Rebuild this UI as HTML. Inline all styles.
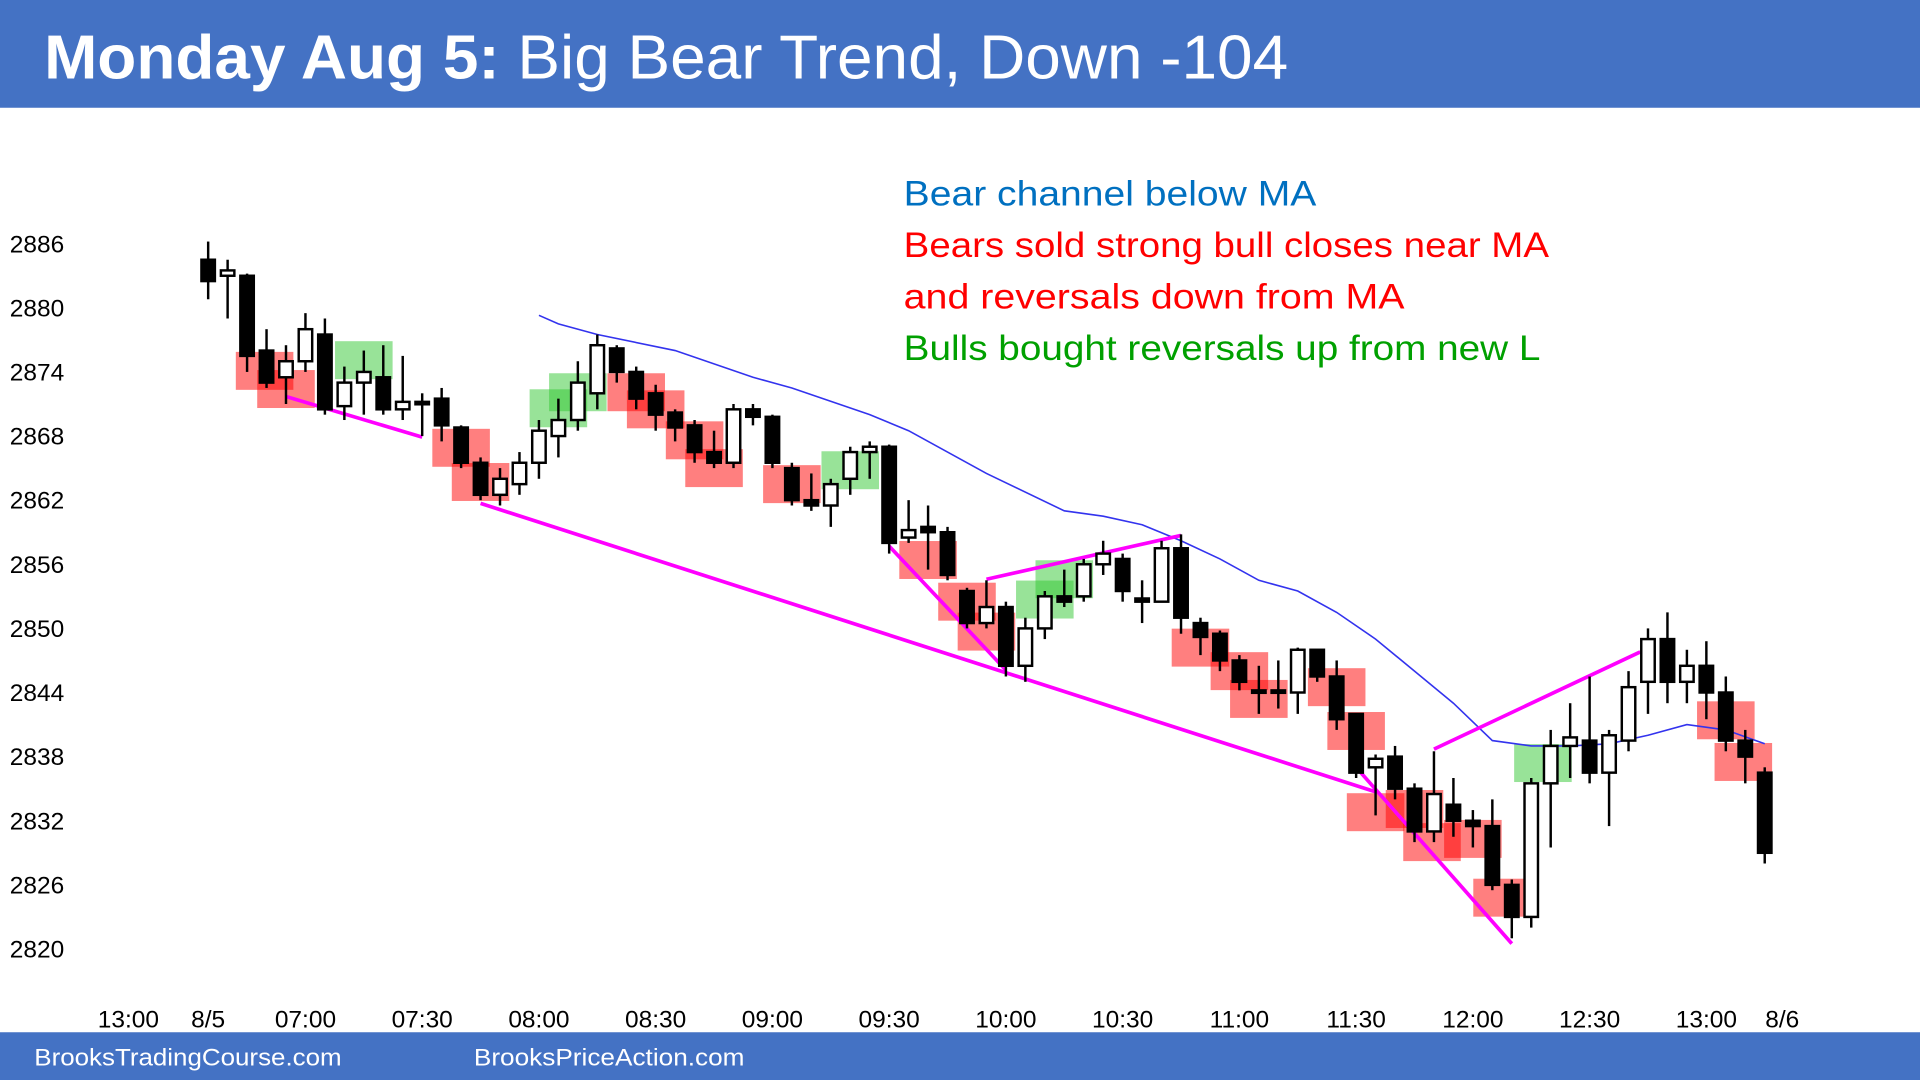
<!DOCTYPE html>
<html><head><meta charset="utf-8"><style>
html,body{margin:0;padding:0;background:#fff;}
svg{display:block;font-family:"Liberation Sans",sans-serif;}
</style></head><body>
<svg id="chart" width="1920" height="1080" viewBox="0 0 1568 882" preserveAspectRatio="none" xmlns="http://www.w3.org/2000/svg">
<rect x="0" y="0" width="1568" height="88" fill="#4472C4"/>
<text x="36" y="64" font-size="51" fill="#fff" textLength="1016" lengthAdjust="spacingAndGlyphs"><tspan font-weight="bold">Monday Aug 5:</tspan> Big Bear Trend, Down -104</text>
<rect x="0" y="843" width="1568" height="39" fill="#4472C4"/>
<text x="28" y="870" font-size="20" fill="#fff" textLength="251" lengthAdjust="spacingAndGlyphs">BrooksTradingCourse.com</text>
<text x="387" y="870" font-size="20" fill="#fff" textLength="221" lengthAdjust="spacingAndGlyphs">BrooksPriceAction.com</text>
<g font-size="29" lengthAdjust="spacingAndGlyphs">
<text x="738" y="168" fill="#0070C0" textLength="337" lengthAdjust="spacingAndGlyphs">Bear channel below MA</text>
<text x="738" y="210" fill="#FF0000" textLength="527" lengthAdjust="spacingAndGlyphs">Bears sold strong bull closes near MA</text>
<text x="738" y="252" fill="#FF0000" textLength="409" lengthAdjust="spacingAndGlyphs">and reversals down from MA</text>
<text x="738" y="294" fill="#00A000" textLength="520" lengthAdjust="spacingAndGlyphs">Bulls bought reversals up from new L</text>
</g>
<g id="yaxis"></g>
<g id="xaxis"></g>
<g id="boxes"></g>
<g id="ma"></g>
<g id="lines"></g>
<g id="candles"></g>
</svg>
<script>
const opens  = [2884.5,2883,2883,2876,2873.5,2875,2877.5,2870.8,2873,2873.5,2870.5,2871,2871.5,2868.8,2865.5,2862.5,2863.5,2865.5,2868,2869.5,2872,2876.2,2874,2872,2870.2,2869,2866.5,2865.5,2870.5,2869.8,2865,2862,2861.5,2864,2866.5,2867,2858.5,2859.5,2859,2853.5,2850.5,2852,2846.5,2850,2853,2853,2856,2856.5,2852.8,2852.5,2857.5,2850.5,2849.5,2847,2844.2,2844.2,2844,2848,2845.5,2842,2837,2838,2835,2831,2833.5,2832,2831.5,2826,2823,2835.5,2839,2839.5,2836.5,2839.5,2845,2849,2845,2846.5,2844,2839.5,2836.5];
const highs  = [2886.2,2884.5,2883.2,2878,2876.5,2879.5,2879,2874.5,2876,2876.5,2875.5,2872,2872.5,2869,2866,2865,2866.5,2869.5,2871.5,2875,2877.5,2876.5,2874.5,2872.8,2870.5,2869.5,2868.5,2871,2871,2870,2865.5,2864.5,2864,2867,2867.5,2867.2,2862,2861.5,2859.5,2853.8,2854.5,2852.5,2851,2853.5,2855.5,2856.5,2858.2,2857,2854.5,2858.2,2858.8,2851,2849.8,2847.5,2846.5,2847,2848.2,2848,2847,2842,2838.2,2839,2835.5,2838.5,2836,2833,2834,2826.5,2836,2840.5,2843,2845.5,2840.5,2846,2850,2851.5,2848,2848.8,2845.5,2840.5,2837];
const lows   = [2880.8,2879,2874,2872.5,2871,2874,2870,2869.5,2870,2870,2869.5,2868,2867.5,2865,2862,2861.5,2862.5,2864,2866,2868.5,2870.5,2873,2870.5,2868.5,2867.5,2865.5,2865,2865,2869,2865,2861.5,2861,2859.5,2862.5,2864,2857,2858,2855.5,2854.5,2850,2850,2845.5,2845,2849,2852,2852.5,2855,2852.5,2850.5,2852.5,2849.5,2847.5,2846,2844.2,2842,2842.5,2842,2845,2840.5,2836,2832.5,2834,2830,2830,2830.5,2829.5,2825.5,2821,2822,2829.5,2836,2835.5,2831.5,2838.5,2842,2843,2843,2841.5,2838.5,2835.5,2828];
const closes = [2882.5,2883.5,2875.5,2873,2875,2878,2870.5,2873,2874,2870.5,2871.2,2871.2,2869,2865.5,2862.5,2864,2865.5,2868.5,2869.5,2873,2876.5,2874,2871.5,2870,2868.8,2866.5,2865.5,2870.5,2869.8,2865.5,2862,2861.5,2863.5,2866.5,2867,2858,2859.2,2859,2855,2850.5,2852,2846.5,2850,2853,2852.5,2856,2857,2853.5,2852.5,2857.5,2851,2849.2,2847,2845,2844,2844,2848,2845.5,2841.5,2836.5,2837.8,2835,2831,2834.5,2832,2831.5,2826,2823,2835.5,2839,2839.8,2836.5,2840,2844.5,2849,2845,2846.5,2844,2839.5,2838,2829];
const maIdx = [17,18,20,24,28,30,34,36,40,44,46,48,50,52,54,56,58,60,62,64,66,68,70,72,74,76,78,80];
const maVal = [2879.3,2878.5,2877.5,2876,2873.5,2872.5,2870,2868.5,2864.5,2861,2860.5,2859.7,2858.2,2856.5,2854.5,2853.5,2851.5,2849,2846,2843,2839.5,2839,2839,2839.2,2840,2841,2840.5,2839.2];
const redBoxIdx = [2.9,4,13,14,22,23,25,26,30,37,39,40,51,53,54,58,59,60,62,62.9,65,66.5,78,78.9];
const redBoxPrice = [2874.1,2872.4,2866.9,2863.7,2872.1,2870.5,2867.6,2865,2863.5,2856.4,2852.5,2849.7,2848.2,2846,2843.4,2844.5,2840.4,2832.8,2833.1,2830,2830.3,2824.8,2841.4,2837.5];
const greenBoxIdx = [8,18,19,33,43,44,68.6];
const greenBoxPrice = [2875.1,2870.6,2872.1,2864.8,2852.7,2854.6,2837.4];
const lineIdx1 = [4,14,35,40,59,63];
const linePrice1 = [2871.7,2861.7,2857.7,2854.6,2837,2838.7];
const lineIdx2 = [11,60,41,50,67,73.6];
const linePrice2 = [2867.9,2834.7,2846.1,2858.7,2820.5,2847.8];
const yTicks = [2820,2826,2832,2838,2844,2850,2856,2862,2868,2874,2880,2886];
const xTickLabels = ["13:00","8/5","07:00","07:30","08:00","08:30","09:00","09:30","10:00","10:30","11:00","11:30","12:00","12:30","13:00","8/6"];
const xTickIdx = [-4.1,0,5,11,17,23,29,35,41,47,53,59,65,71,77,80.9];

const NS="http://www.w3.org/2000/svg";
const xs = i => 170 + i*15.89;
const ys = p => 775 - (p-2820)*8.727;
function mk(tag, parent, attrs){const e=document.createElementNS(NS,tag);for(const k in attrs)e.setAttribute(k,attrs[k]);parent.appendChild(e);return e;}

const ya=document.getElementById('yaxis');
yTicks.forEach(v=>{const t=mk('text',ya,{x:8,y:ys(v)+7,'font-size':20,fill:'#000'});t.textContent=v;

});
const xa=document.getElementById('xaxis');
xTickLabels.forEach((l,k)=>{const t=mk('text',xa,{x:xs(xTickIdx[k]),y:839,'font-size':20,fill:'#000','text-anchor':'middle'});t.textContent=l;

});

const bx=document.getElementById('boxes');
redBoxIdx.forEach((ix,k)=>{const r=mk('rect',bx,{x:xs(ix)-23.5,y:ys(redBoxPrice[k])-15.5,width:47,height:31,fill:'rgba(255,0,0,0.5)'});

});
greenBoxIdx.forEach((ix,k)=>{const r=mk('rect',bx,{x:xs(ix)-23.5,y:ys(greenBoxPrice[k])-15.5,width:47,height:31,fill:'rgba(50,200,50,0.5)'});

});

const ma=document.getElementById('ma');
const pl=mk('polyline',ma,{points:maIdx.map((ix,k)=>xs(ix)+','+ys(maVal[k])).join(' '),fill:'none',stroke:'#3333ee','stroke-width':1.3});



const ln=document.getElementById('lines');
lineIdx1.forEach((ix,k)=>{const l=mk('line',ln,{x1:xs(ix),y1:ys(linePrice1[k]),x2:xs(lineIdx2[k]),y2:ys(linePrice2[k]),stroke:'#ff00ff','stroke-width':3});

});

const cg=document.getElementById('candles');
opens.forEach((o,i)=>{const c=closes[i],x=xs(i);const g=mk('g',cg,{});


const bull=c>=o;const top=ys(Math.max(o,c)),bot=ys(Math.min(o,c));
mk('line',g,{x1:x,y1:ys(highs[i]),x2:x,y2:top,stroke:'#000','stroke-width':2});
mk('line',g,{x1:x,y1:bot,x2:x,y2:ys(lows[i]),stroke:'#000','stroke-width':2});
mk('rect',g,{x:x-5.5,y:top,width:11,height:Math.max(bot-top,2),fill:bull?'#fff':'#000',stroke:'#000','stroke-width':2});
});
</script>
</body></html>
